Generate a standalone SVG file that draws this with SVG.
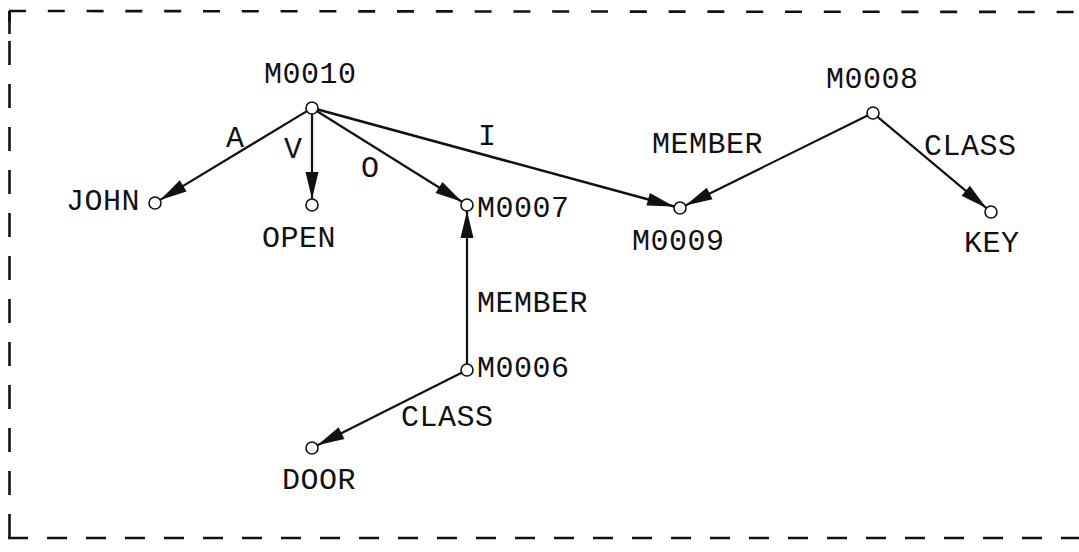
<svg xmlns="http://www.w3.org/2000/svg" width="1079" height="552" viewBox="0 0 1079 552">
  <style>
    .lbl { font-family: "Liberation Mono", "DejaVu Sans Mono", monospace; font-size: 30px; letter-spacing: 0.5px; fill: #111; }
    .node circle { fill: #fff; stroke: #111; stroke-width: 1.6; }
    .edge { stroke: #111; stroke-width: 2.2; fill: none; marker-end: url(#arr); }
    .frame { stroke: #111; stroke-width: 2.6; fill: none; }
  </style>
  <defs>
    <marker id="arr" viewBox="-29 -8 30 16" markerWidth="30" markerHeight="16" refX="0" refY="0" orient="auto" markerUnits="userSpaceOnUse">
      <path d="M0,0 L-27,-6.5 L-27,6.5 Z" fill="#111"/>
    </marker>
  </defs>
  <rect width="1079" height="552" fill="#fff"/>

  <g id="frame">
    <line class="frame" x1="9" y1="11" x2="1079" y2="12" stroke-dasharray="17 21.8"/>
    <line class="frame" x1="9.5" y1="11" x2="9.5" y2="34"/>
    <line class="frame" x1="9.5" y1="538" x2="9.5" y2="11" stroke-dasharray="24 19"/>
    <line class="frame" x1="8" y1="538" x2="1079" y2="538" stroke-dasharray="20 19"/>
  </g>

  <g id="connectors">
    <line id="e-a" class="edge" x1="306.9" y1="111.1" x2="160.1" y2="199.9"/>
    <line id="e-v" class="edge" x1="312" y1="114" x2="312" y2="199"/>
    <line id="e-o" class="edge" x1="317.1" y1="111.2" x2="461.9" y2="201.8"/>
    <line id="e-i" class="edge" x1="317.8" y1="109.6" x2="674.2" y2="206.4" style="stroke-width:2.6"/>
    <line id="e-member1" class="edge" x1="867.6" y1="115.6" x2="685.4" y2="205.4"/>
    <line id="e-class1" class="edge" x1="877.6" y1="116.9" x2="986.4" y2="208.1"/>
    <line id="e-member2" class="edge" x1="467" y1="364" x2="467" y2="211"/>
    <line id="e-class2" class="edge" x1="461.6" y1="372.7" x2="317.4" y2="445.3"/>
    <text class="lbl" x="226" y="147">A</text>
    <text class="lbl" x="284" y="158">V</text>
    <text class="lbl" x="361" y="177">O</text>
    <text class="lbl" x="478" y="145">I</text>
    <text class="lbl" x="652" y="153">MEMBER</text>
    <text class="lbl" x="924" y="155">CLASS</text>
    <text class="lbl" x="477" y="312">MEMBER</text>
    <text class="lbl" x="401" y="426">CLASS</text>
  </g>

  <g id="n-m0010" class="node">
    <circle cx="312" cy="108" r="6"/>
    <text class="lbl" x="264" y="83">M0010</text>
  </g>
  <g id="n-john" class="node">
    <circle cx="155" cy="203" r="6"/>
    <text class="lbl" x="66" y="210">JOHN</text>
  </g>
  <g id="n-open" class="node">
    <circle cx="312" cy="205" r="6"/>
    <text class="lbl" x="262" y="247">OPEN</text>
  </g>
  <g id="n-m0007" class="node">
    <circle cx="467" cy="205" r="6"/>
    <text class="lbl" x="477" y="217">M0007</text>
  </g>
  <g id="n-m0009" class="node">
    <circle cx="680" cy="208" r="6"/>
    <text class="lbl" x="632" y="250">M0009</text>
  </g>
  <g id="n-m0008" class="node">
    <circle cx="873" cy="113" r="6"/>
    <text class="lbl" x="826" y="88">M0008</text>
  </g>
  <g id="n-key" class="node">
    <circle cx="991" cy="212" r="6"/>
    <text class="lbl" x="964" y="252">KEY</text>
  </g>
  <g id="n-m0006" class="node">
    <circle cx="467" cy="370" r="6"/>
    <text class="lbl" x="477" y="377">M0006</text>
  </g>
  <g id="n-door" class="node">
    <circle cx="312" cy="448" r="6"/>
    <text class="lbl" x="282" y="489">DOOR</text>
  </g>
</svg>
